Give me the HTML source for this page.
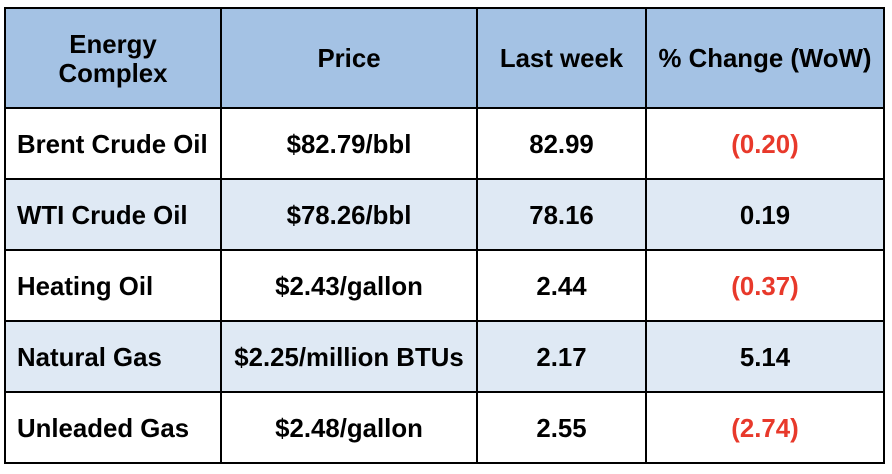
<!DOCTYPE html>
<html><head><style>
body{margin:0;background:#fff;width:892px;height:474px;overflow:hidden}
table{position:absolute;left:4px;top:7px;border-collapse:collapse;font-family:"Liberation Sans",Arial,sans-serif;font-weight:bold;font-size:25.8px;color:#000}
td,th{border:2px solid #000;text-align:center;padding:3px 0 0 0;line-height:29px;white-space:nowrap}
th{background:#a4c2e4;height:95px;font-weight:bold}
td{height:66px}
tr.a td{background:#dfe9f4}
td.l{text-align:left;padding-left:11px}
.r{color:#e8392b}
</style></head><body>
<table>
<colgroup><col style="width:216px"><col style="width:256px"><col style="width:169px"><col style="width:238px"></colgroup>
<tr><th>Energy<br>Complex</th><th>Price</th><th>Last week</th><th>% Change (WoW)</th></tr>
<tr><td class="l">Brent Crude Oil</td><td>$82.79/bbl</td><td>82.99</td><td class="r">(0.20)</td></tr>
<tr class="a"><td class="l">WTI Crude Oil</td><td>$78.26/bbl</td><td>78.16</td><td>0.19</td></tr>
<tr><td class="l">Heating Oil</td><td>$2.43/gallon</td><td>2.44</td><td class="r">(0.37)</td></tr>
<tr class="a"><td class="l">Natural Gas</td><td>$2.25/million BTUs</td><td>2.17</td><td>5.14</td></tr>
<tr><td class="l">Unleaded Gas</td><td>$2.48/gallon</td><td>2.55</td><td class="r">(2.74)</td></tr>
</table>
</body></html>
